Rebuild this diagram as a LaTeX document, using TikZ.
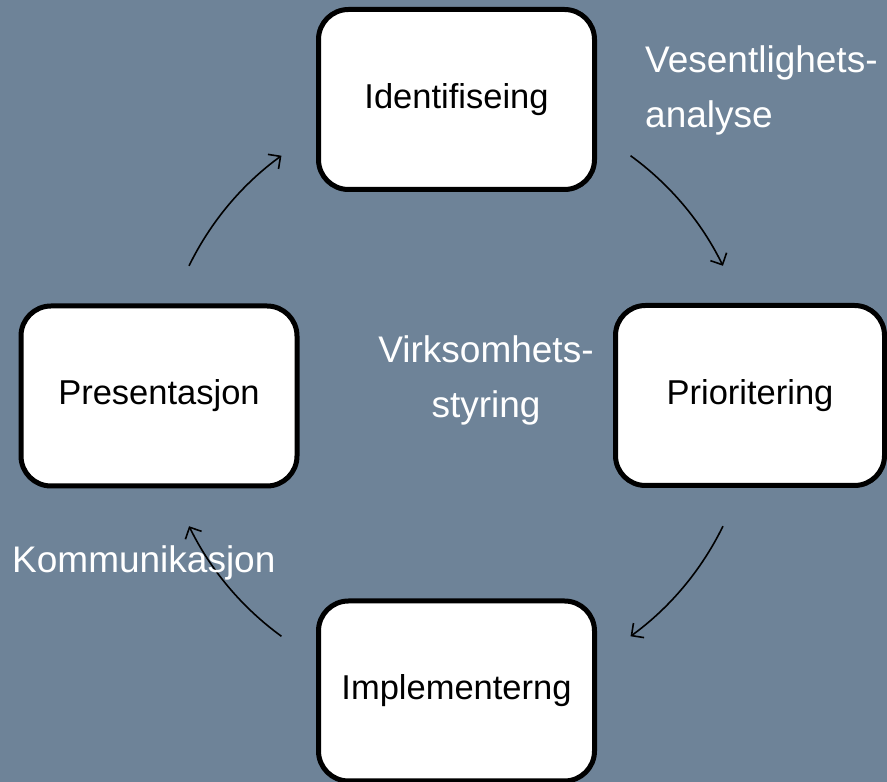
\documentclass[tikz,border=0pt]{standalone}
\usepackage{fontspec}
\setmainfont{Liberation Sans}
\usetikzlibrary{arrows.meta}
\definecolor{bgslate}{RGB}{110,131,152}
\begin{document}
\begin{tikzpicture}[x=1pt,y=1pt,
  stage/.style={draw=black, fill=white, line width=5pt, rounded corners=30pt,
    minimum width=276pt, minimum height=180pt, inner sep=0pt,
    font=\fontsize{34.5}{40}\selectfont, text=black},
  lbl/.style={text=white, font=\fontsize{37}{55}\selectfont, inner sep=0pt},
  flow/.style={line width=1.6pt, -{Straight Barb[length=9pt,width=18pt]}}]
\fill[bgslate] (0,0) rectangle (887,782);
\useasboundingbox (0,0) rectangle (887,782);
\node[stage] (ident) at (456.5,682.5) {Identifiseing};
\node[stage, minimum width=269pt] (prior) at (750,386.5) {Prioritering};
\node[stage] (pres) at (159,386) {Presentasjon};
\node[stage] (impl) at (456.5,91) {Implementerng};
\coordinate (c) at (456,386);
\path (c) ++(154:297pt) coordinate (a1s);
\path (c) ++(54:297pt) coordinate (a2s);
\path (c) ++(-26:297pt) coordinate (a3s);
\path (c) ++(-126:297pt) coordinate (a4s);
\draw[flow] (a1s) arc[start angle=154, end angle=126, radius=297pt];
\draw[flow] (a2s) arc[start angle=54, end angle=26, radius=297pt];
\draw[flow] (a3s) arc[start angle=-26, end angle=-54, radius=297pt];
\draw[flow] (a4s) arc[start angle=-126, end angle=-154, radius=297pt];
\node[lbl, align=left, anchor=base west] (vesent) at (645,654) {Vesentlighets-\\analyse};
\node[lbl, align=center, anchor=base] (virks) at (486,364) {Virksomhets-\\styring};
\node[lbl, anchor=base west] (komm) at (12,209) {Kommunikasjon};
\end{tikzpicture}
\end{document}
